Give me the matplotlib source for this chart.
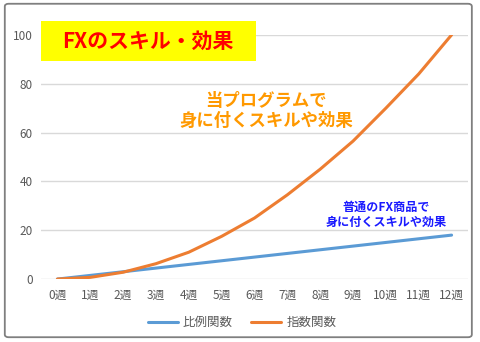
import matplotlib.pyplot as plt
from matplotlib.patches import FancyBboxPatch, Rectangle

plt.rcParams['font.family'] = ['Noto Sans CJK JP', 'DejaVu Sans']

weeks = [f"{i}週" for i in range(13)]
hirei = [0, 1.5, 3, 4.5, 6, 7.5, 9, 10.5, 12, 13.5, 15, 16.5, 18]
shisu = [0, 0.7, 2.8, 6.3, 11, 17.5, 25, 34.5, 45, 56.5, 70, 84, 100]

fig = plt.figure(figsize=(4.8, 3.42), dpi=100)
ax = fig.add_axes([0.0854, 0.184, 0.8896, 0.714])

x = range(len(weeks))
ax.plot(x, hirei, color='#5B9BD5', lw=2.2, solid_capstyle='round', label='比例関数')
ax.plot(x, shisu, color='#ED7D31', lw=2.2, solid_capstyle='round', label='指数関数')

ax.set_xlim(-0.5, 12.5)
ax.set_ylim(0, 100)
ax.set_yticks([0, 20, 40, 60, 80, 100])
ax.set_xticks(list(x))
ax.set_xticklabels(weeks)
ax.grid(axis='y', color='#D9D9D9', lw=1)
ax.set_axisbelow(True)
for s in ax.spines.values():
    s.set_visible(False)
ax.tick_params(length=0, colors='#595959', labelsize=8.5)
ax.tick_params(axis='x', pad=7)
ax.tick_params(axis='y', pad=6)

ax.text(6.35, 68.7, '当プログラムで\n身に付くスキルや効果', color='#FF9900',
        fontsize=12.5, fontweight='bold', ha='center', va='center', linespacing=1.15)
ax.text(10.0, 26.3, '普通のFX商品で\n身に付くスキルや効果', color='#1A1AFF',
        fontsize=8.7, fontweight='bold', ha='center', va='center', linespacing=1.2)

# title box
fig.patches.append(Rectangle((0.0854, 0.8216), 0.448, 0.117, transform=fig.transFigure,
                             facecolor='#FFFF00', edgecolor='none', zorder=3))
fig.text(0.307, 0.880, 'FXのスキル・効果', color='#FF0000', fontsize=15,
         fontweight='bold', ha='center', va='center', zorder=4)

# outer border
fig.patches.append(FancyBboxPatch((0.01, 0.014), 0.973, 0.975, transform=fig.transFigure,
                                  boxstyle='round,pad=0,rounding_size=0.008',
                                  facecolor='none', edgecolor='#7F7F7F', lw=1.3))

fig.legend(loc='center', bbox_to_anchor=(0.504, 0.056), ncol=2, frameon=False,
           fontsize=9, handlelength=2.4, columnspacing=1.5, handletextpad=0.4,
           labelcolor='#595959')

fig.savefig('out.png', dpi=100)
